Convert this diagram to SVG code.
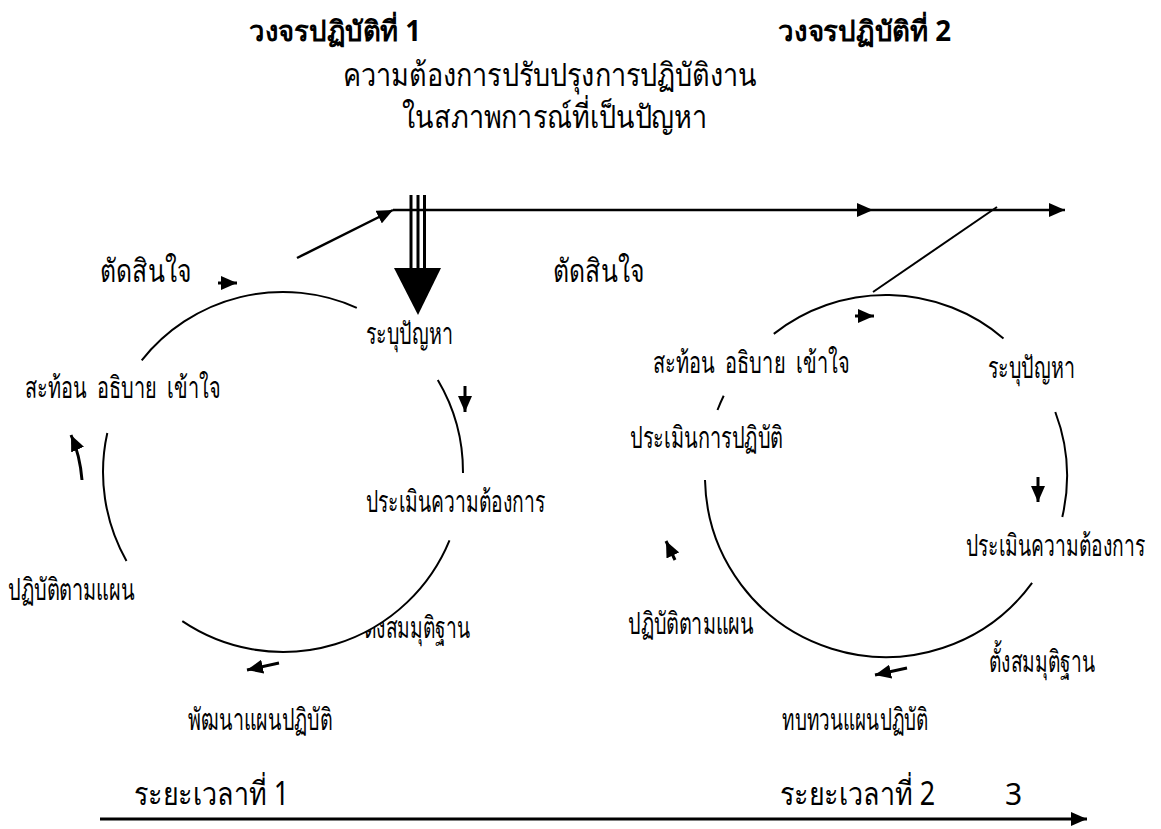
<svg xmlns="http://www.w3.org/2000/svg" width="1161" height="829" viewBox="0 0 1161 829">
<style>
text{font-family:"Noto Sans","DejaVu Sans",sans-serif;fill:#000}
.title{font-size:28px;font-weight:bold}
.big{font-size:32px}
.lbl{font-size:30px}
.num{font-size:30px}
.arc{fill:#fff;stroke:#000;stroke-width:2}
.ln{stroke:#000;stroke-width:2.5;fill:none}
.sa{stroke:#000;stroke-width:3;fill:none}
</style>
<defs>
<marker id="ah" markerUnits="userSpaceOnUse" markerWidth="16" markerHeight="14" refX="16" refY="7" orient="auto"><path d="M0,0 L16,7 L0,14 Z" fill="#000"/></marker>
</defs>
<rect width="1161" height="829" fill="#fff"/>

<g id="title1"><text class="title" x="249" y="41" textLength="172" lengthAdjust="spacingAndGlyphs">วงจรปฏิบัติที่ 1</text></g>
<g id="title2"><text class="title" x="778" y="41" textLength="173" lengthAdjust="spacingAndGlyphs">วงจรปฏิบัติที่ 2</text></g>
<g id="need"><text class="big" x="343" y="86" textLength="414" lengthAdjust="spacingAndGlyphs">ความต้องการปรับปรุงการปฏิบัติงาน</text>
<text class="big" x="402" y="128" textLength="305" lengthAdjust="spacingAndGlyphs">ในสภาพการณ์ที่เป็นปัญหา</text></g>

<g id="c1-decide"><text class="big" x="100" y="282" textLength="92" lengthAdjust="spacingAndGlyphs">ตัดสินใจ</text></g>
<g id="c1-identify"><text class="lbl" x="366" y="344" textLength="87" lengthAdjust="spacingAndGlyphs">ระบุปัญหา</text></g>
<g id="c1-reflect"><text class="lbl" x="25" y="398" textLength="196" lengthAdjust="spacingAndGlyphs" xml:space="preserve" style="white-space:pre">สะท้อน  อธิบาย  เข้าใจ</text></g>
<g id="c1-assess"><text class="lbl" x="366" y="512" textLength="179" lengthAdjust="spacingAndGlyphs">ประเมินความต้องการ</text></g>
<g id="c1-act"><text class="lbl" x="8" y="600" textLength="127" lengthAdjust="spacingAndGlyphs">ปฏิบัติตามแผน</text></g>
<g id="c1-hyp"><text class="lbl" x="364" y="638" textLength="106" lengthAdjust="spacingAndGlyphs">ตั้งสมมุติฐาน</text></g>
<g id="c1-plan"><text class="lbl" x="188" y="730" textLength="144" lengthAdjust="spacingAndGlyphs">พัฒนาแผนปฏิบัติ</text></g>

<g id="c2-decide"><text class="big" x="553" y="282" textLength="92" lengthAdjust="spacingAndGlyphs">ตัดสินใจ</text></g>
<g id="c2-reflect"><text class="lbl" x="653" y="373" textLength="197" lengthAdjust="spacingAndGlyphs" xml:space="preserve" style="white-space:pre">สะท้อน  อธิบาย  เข้าใจ</text></g>
<g id="c2-identify"><text class="lbl" x="988" y="378" textLength="87" lengthAdjust="spacingAndGlyphs">ระบุปัญหา</text></g>
<g id="c2-evaluate"><text class="lbl" x="630" y="448" textLength="153" lengthAdjust="spacingAndGlyphs">ประเมินการปฏิบัติ</text></g>
<g id="c2-assess"><text class="lbl" x="966" y="556" textLength="179" lengthAdjust="spacingAndGlyphs">ประเมินความต้องการ</text></g>
<g id="c2-act"><text class="lbl" x="628" y="634" textLength="126" lengthAdjust="spacingAndGlyphs">ปฏิบัติตามแผน</text></g>
<g id="c2-hyp"><text class="lbl" x="989" y="672" textLength="106" lengthAdjust="spacingAndGlyphs">ตั้งสมมุติฐาน</text></g>
<g id="c2-review"><text class="lbl" x="782" y="730" textLength="146" lengthAdjust="spacingAndGlyphs">ทบทวนแผนปฏิบัติ</text></g>

<g id="time1"><text class="big" x="134" y="805" textLength="155" lengthAdjust="spacingAndGlyphs">ระยะเวลาที่ 1</text></g>
<g id="time2"><text class="big" x="780" y="805" textLength="155" lengthAdjust="spacingAndGlyphs">ระยะเวลาที่ 2</text></g>
<g id="time3"><text class="num" x="1005" y="805">3</text></g>

<g id="cycle1-arcs">
<path class="arc" d="M141.7,360.4 A180,180 0 0 1 356.8,307.8"/>
<path class="arc" d="M437.8,380.1 A180,180 0 0 1 463,472.9"/>
<path class="arc" d="M449.5,540.3 A180,180 0 0 1 182.3,621.2"/>
<path class="arc" d="M126.5,560.9 A180,180 0 0 1 107.3,433"/>
</g>
<g id="cycle2-arcs">
<path class="arc" d="M773.8,333.9 A181,181 0 0 1 1003.5,338.4"/>
<path class="arc" d="M717.5,410 A181,181 0 0 1 723.7,395.8"/>
<path class="arc" d="M1055.3,412 A181,181 0 0 1 1062.3,517"/>
<path class="arc" d="M1032.1,582.9 A181,181 0 0 1 705,480.1"/>
</g>

<g id="connectors">
<line class="ln" x1="297" y1="258" x2="393" y2="210" marker-end="url(#ah)"/>
<line class="ln" x1="393" y1="210" x2="873" y2="210" marker-end="url(#ah)"/>
<line class="ln" x1="873" y1="210" x2="1065" y2="210" marker-end="url(#ah)"/>
<line x1="997" y1="207" x2="873" y2="292" stroke="#000" stroke-width="2"/>
<g stroke="#000" stroke-width="3">
<line x1="411" y1="195" x2="411" y2="269"/>
<line x1="418" y1="195" x2="418" y2="269"/>
<line x1="424.5" y1="195" x2="424.5" y2="269"/>
</g>
<path d="M394,268 L441,268 L418,315 Z" fill="#000"/>
<line class="sa" x1="218" y1="283" x2="237" y2="283" marker-end="url(#ah)"/>
<line class="sa" x1="465" y1="386" x2="465" y2="412" marker-end="url(#ah)"/>
<line class="sa" x1="279" y1="663" x2="247" y2="670" marker-end="url(#ah)"/>
<path class="sa" d="M82,480 Q80,455 71,435" marker-end="url(#ah)"/>
<line class="sa" x1="855" y1="316" x2="874" y2="316" marker-end="url(#ah)"/>
<line class="sa" x1="1038" y1="477" x2="1038" y2="502" marker-end="url(#ah)"/>
<line class="sa" x1="907" y1="668" x2="875" y2="675" marker-end="url(#ah)"/>
<line class="sa" x1="675" y1="560" x2="666" y2="541" marker-end="url(#ah)"/>
<line class="sa" x1="100" y1="819" x2="1087" y2="819" marker-end="url(#ah)"/>
</g>
</svg>
